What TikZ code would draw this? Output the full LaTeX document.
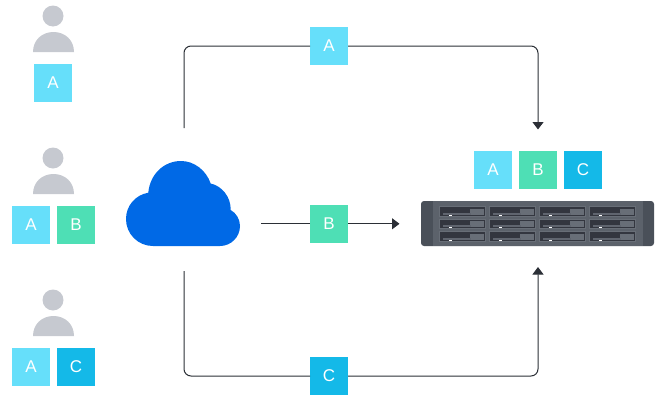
\documentclass[tikz,border=0pt]{standalone}
\usepackage{fontspec}
\setmainfont{Liberation Sans}
\usetikzlibrary{arrows.meta}
\definecolor{sqa}{HTML}{66DFFA}
\definecolor{sqb}{HTML}{4EDFB5}
\definecolor{sqc}{HTML}{14B9E8}
\definecolor{person}{HTML}{C6C9D0}
\definecolor{cloudblue}{HTML}{0069E6}
\definecolor{wire}{HTML}{2B2F36}
\definecolor{nasbody}{HTML}{5C626B}
\definecolor{nasear}{HTML}{4A5059}
\definecolor{nasbay}{HTML}{33363F}
\definecolor{nasframe}{HTML}{686E77}
\tikzset{
  x=1pt,y=-1pt,
  tag/.style={minimum size=38pt,inner sep=0pt,outer sep=0pt,text=white,font=\fontsize{17}{20}\selectfont},
  taga/.style={tag,fill=sqa},
  tagb/.style={tag,fill=sqb},
  tagc/.style={tag,fill=sqc},
  link/.style={draw=wire,line width=1pt,rounded corners=7pt},
  tip/.style={-{Triangle[length=7.5pt,width=11pt]}},
  personfill/.style={fill=person,draw=none}
}
\newcommand{\persondraw}[1]{%
  \fill[personfill] (53,#1+16) circle[radius=10.5];
  \fill[personfill] (33,#1+52) .. controls (33,#1+40) and (42,#1+32) .. (53.5,#1+32) .. controls (65,#1+32) and (74,#1+40) .. (74,#1+52) -- cycle;
}
\begin{document}
\begin{tikzpicture}
\useasboundingbox (0,0) rectangle (662,394);
% people
\persondraw{0}
\persondraw{142}
\persondraw{284}
\node[taga] (u1a) at (53,83) {A};
\node[taga] (u2a) at (31,225) {A};
\node[tagb] (u2b) at (76,225) {B};
\node[taga] (u3a) at (31,367) {A};
\node[tagc] (u3c) at (76,367) {C};
% cloud
\fill[cloudblue] (153,246)
  .. controls (138,246) and (126,234) .. (126,219)
  .. controls (126,206) and (135,195) .. (148.3,192.7)
  .. controls (150,174) and (164,161) .. (181,161)
  .. controls (194,161) and (206,170) .. (210.7,183.5)
  .. controls (222,186) and (231,197) .. (230.7,210)
  .. controls (236,213) and (240,219) .. (240,226)
  .. controls (240,237) and (231,246) .. (220,246) -- cycle;
% nas
\fill[nasear,rounded corners=3pt] (421,201) -- (654,201) -- (654,246) -- (421,246) -- cycle;
\fill[nasbody] (433,201) rectangle (643,246);
\foreach \c in {0,1,2,3}{
  \foreach \r in {206.3,218.8,231.3}{
    \fill[nasframe] (439+\c*50,\r) rectangle +(47,10.6);
    \fill[nasbay] (440+\c*50,\r+1) rectangle +(45,8.6);
    \fill[nasframe] (470+\c*50,\r+2.5) rectangle +(14,5.7);
    \fill[nasframe!85!nasbay] (442.5+\c*50,\r+6.5) rectangle +(28,1.7);
    \fill[white] (449+\c*50,\r+8.2) rectangle +(3,1.4);
  }
}
% tags
\node[taga] (ta) at (329,46) {A};
\node[tagb] (tb) at (329,224) {B};
\node[tagc] (tc) at (329,376) {C};
\node[taga] (ra) at (493,170) {A};
\node[tagb] (rb) at (538,170) {B};
\node[tagc] (rc) at (583,170) {C};
% connector ends
\coordinate (s1) at (184,128);
\coordinate (s2) at (261,223.8);
\coordinate (s3) at (184,271);
\coordinate (e1) at (538,129.5);
\coordinate (e2) at (399.5,223.8);
\coordinate (e3) at (538,267);
\coordinate (c1a) at (184,46);
\coordinate (c1b) at (538,46);
\coordinate (c3a) at (184,376);
\coordinate (c3b) at (538,376);
\coordinate (tbr) at (348,223.8);
\coordinate (tbl) at (310,223.8);
\draw[link] (s1) -- (c1a) -- (ta.west);
\draw[link,tip] (ta.east) -- (c1b) -- (e1);
\draw[link] (s2) -- (tbl);
\draw[link,tip] (tbr) -- (e2);
\draw[link] (s3) -- (c3a) -- (tc.west);
\draw[link,tip] (tc.east) -- (c3b) -- (e3);
\end{tikzpicture}
\end{document}
